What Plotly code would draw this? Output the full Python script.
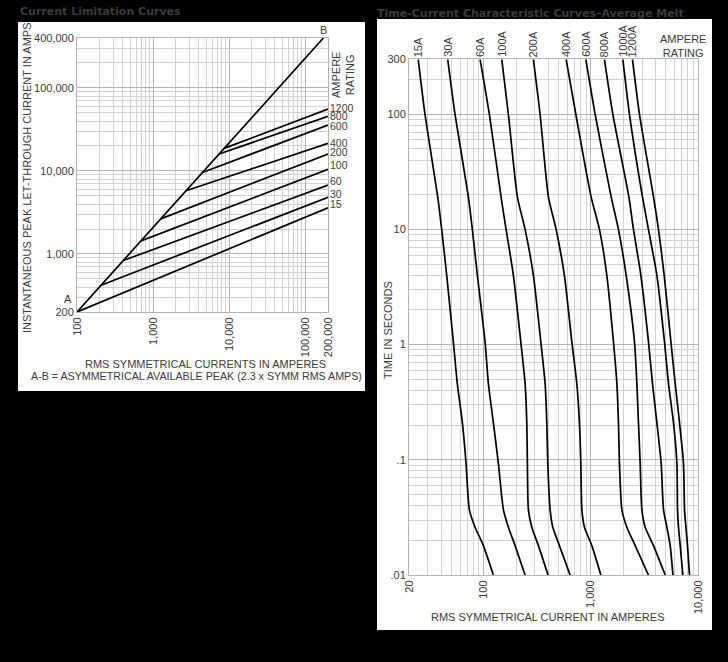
import math
import plotly.graph_objects as go

# ---------------- Left chart: Current Limitation Curves ----------------
ab_current = [100, 174000]          # A-B line (RMS symmetrical amps)
ab_peak = [200, 400000]             # A-B line (peak let-through amps)

left_ratings = ["1200", "800", "600", "400", "200", "100", "60", "30", "15"]
left_start_current = [8590, 7380, 4460, 2720, 1262, 695, 406, 207, 100]
left_start_peak = [18700, 16000, 9570, 5780, 2650, 1440, 834, 420, 200]
left_end_current = 200000
left_end_peak = [55800, 45600, 35800, 21500, 16000, 10500, 6780, 4820, 3610]

left_xticks = [100, 1000, 10000, 100000, 200000]
left_xticktext = ["100", "1,000", "10,000", "100,000", "200,000"]
left_yticks = [200, 1000, 10000, 100000, 400000]
left_yticktext = ["200", "1,000", "10,000", "100,000", "400,000"]

# ---------------- Right chart: Time-Current Curves ----------------
melt_times = [300, 100, 19.2, 10, 4.0, 1.06, 0.46, 0.21, 0.093, 0.037, 0.026, 0.018, 0.01]
amps_15 = [24.4, 28.2, 37.1, 40.4, 45.0, 51.9, 56.5, 63.0, 68.2, 73.2, 82.8, 99.0, 122.7]
amps_30 = [46.0, 53.8, 71.7, 78.1, 87.0, 102.6, 110.2, 122.7, 136.7, 152.2, 169.5, 195.7, 242.8]
amps_60 = [92.2, 112.6, 144.8, 161.3, 188.7, 221.3, 242.8, 251.8, 255.1, 260.6, 280.4, 323.2, 398]
amps_100 = [147.0, 169.5, 205.7, 242.8, 290.2, 340.3, 373.4, 387.2, 395.7, 415.8, 440.6, 507.7, 639.2]
amps_200 = [290.2, 335.2, 400.8, 473.1, 565.4, 663.1, 738.5, 780.9, 805.0, 822.5, 869.8, 1020, 1238]
amps_400 = [586.6, 722.8, 1004, 1201, 1408, 1623, 1747, 1808, 1847, 1945, 2166, 2590, 3447]
amps_600 = [896.4, 1095, 1545, 1808, 2134, 2551, 2686, 2780, 2884, 2991, 3211, 3839, 4939]
amps_800 = [1337, 1602, 2261, 2497, 2928, 3447, 3757, 4130, 4531, 4761, 5122, 5500, 5830]
amps_1000 = [1987, 2291, 3030, 3447, 4130, 4864, 5301, 5904, 6353, 6436, 6576, 6820, 7225]
amps_1200 = [2443, 2841, 3839, 4275, 4833, 5583, 6124, 6718, 7322, 7482, 7710, 7980, 8332]
right_ratings = ["15A", "30A", "60A", "100A", "200A", "400A", "600A", "800A", "1000A", "1200A"]
right_curves = [amps_15, amps_30, amps_60, amps_100, amps_200, amps_400, amps_600,
                amps_800, amps_1000, amps_1200]

right_xticks = [20, 100, 1000, 10000]
right_xticktext = ["20", "100", "1,000", "10,000"]
right_yticks = [300, 100, 10, 1, 0.1, 0.01]
right_yticktext = ["300", "100", "10", "1", ".1", ".01"]

# ---------------- layout helpers ----------------
W, H = 728, 662
FONT = "Liberation Sans, Arial, sans-serif"
TXT = "#3a3a3a"

# vertical pixel nudges of the rating labels at the right end of the left chart
left_label_shift = [1, 0, -1, 0, 2, 4, 4, 3, 4]


def fx(p):
    return p / W


def fy(p):
    return 1 - p / H


def minor_vals(lo, hi):
    vals = []
    for e in range(lo, hi + 1):
        for m in range(1, 10):
            vals.append(m * 10 ** e)
    return vals


fig = go.Figure()

line_style = dict(color="black", width=1.7)

fig.add_trace(go.Scatter(x=ab_current, y=ab_peak, mode="lines", line=line_style,
                         xaxis="x", yaxis="y", hoverinfo="skip"))
for sx, sy, ey in zip(left_start_current, left_start_peak, left_end_peak):
    fig.add_trace(go.Scatter(x=[sx, left_end_current], y=[sy, ey], mode="lines",
                             line=line_style, xaxis="x", yaxis="y", hoverinfo="skip"))

for amps in right_curves:
    fig.add_trace(go.Scatter(x=amps, y=melt_times, mode="lines",
                             line=dict(color="black", width=1.7, shape="spline", smoothing=0.6),
                             xaxis="x2", yaxis="y2", hoverinfo="skip"))

grid_major = "#b4b4b4"
grid_minor = "#d2d2d2"
tickfont = dict(family=FONT, size=11, color=TXT)


def log_axis(domain, rng, tickvals, ticktext, lo, hi, anchor, angle=None):
    d = dict(type="log", domain=domain, range=rng, tickmode="array", automargin=False,
             tickvals=tickvals, ticktext=ticktext, showgrid=True, gridcolor=grid_major,
             gridwidth=1, zeroline=False, showline=True, linecolor=grid_major, mirror=True,
             ticks="", tickfont=tickfont, anchor=anchor, fixedrange=True,
             minor=dict(showgrid=True, gridcolor=grid_minor, gridwidth=1,
                        tickmode="array", tickvals=minor_vals(lo, hi), ticks=""))
    if angle is not None:
        d["tickangle"] = angle
    return d


fig.update_layout(
    template="none",
    width=W, height=H, margin=dict(l=0, r=0, t=0, b=0, pad=0, autoexpand=False),
    paper_bgcolor="black", plot_bgcolor="white", showlegend=False,
    xaxis=log_axis([fx(77), fx(328)], [2, math.log10(200000)], left_xticks, left_xticktext,
                   2, 5, "y", -90),
    yaxis=log_axis([fy(312), fy(38)], [math.log10(200), math.log10(400000)], left_yticks,
                   left_yticktext, 2, 5, "x"),
    xaxis2=log_axis([fx(409), fx(698)], [math.log10(20), 4], right_xticks, right_xticktext,
                    1, 4, "y2", -90),
    yaxis2=log_axis([fy(575), fy(59.3)], [-2, math.log10(300)], right_yticks,
                    right_yticktext, -2, 2, "x2"),
)

# white panels behind charts
fig.add_shape(type="rect", xref="paper", yref="paper", x0=fx(18), x1=fx(365), y0=fy(391),
              y1=fy(22), fillcolor="white", line=dict(width=0), layer="below")
fig.add_shape(type="rect", xref="paper", yref="paper", x0=fx(377), x1=fx(712), y0=fy(630),
              y1=fy(19), fillcolor="white", line=dict(width=0), layer="below")

ann = []


def txt(x, y, text, size=11, angle=0, xanchor="center", yanchor="middle", color=TXT,
        bold=False, xref="paper", yref="paper", xshift=0, yshift=0, family=FONT):
    t = f"<b>{text}</b>" if bold else text
    ann.append(dict(x=x, y=y, xref=xref, yref=yref, text=t, showarrow=False,
                    textangle=angle, xanchor=xanchor, yanchor=yanchor,
                    xshift=xshift, yshift=yshift, borderpad=0,
                    font=dict(family=family, size=size, color=color)))


TITLE_FONT = "DejaVu Sans, Verdana, sans-serif"
# titles on black background
txt(fx(19), fy(12), "Current Limitation Curves", size=11, xanchor="left", color="#3c3c3c",
    bold=True, family=TITLE_FONT)
txt(fx(376), fy(13), "Time-Current Characteristic Curves\u2013Average Melt", size=11,
    xanchor="left", color="#3c3c3c", bold=True, family=TITLE_FONT)

# left chart texts
txt(fx(27), fy(178), "INSTANTANEOUS PEAK LET-THROUGH CURRENT IN AMPS", angle=-90)
txt(fx(205), fy(364), "RMS SYMMETRICAL CURRENTS IN AMPERES")
txt(fx(196), fy(376), "A-B = ASYMMETRICAL AVAILABLE PEAK (2.3 x SYMM RMS AMPS)", size=10.7)
txt(fx(343), fy(75), "AMPERE<br>RATING", angle=-90)
txt(fx(68), fy(299), "A")
txt(fx(323), fy(30), "B")
for r, ey, sh in zip(left_ratings, left_end_peak, left_label_shift):
    txt(math.log10(left_end_current), math.log10(ey), r, size=10.5, xref="x", yref="y",
        xanchor="left", xshift=1, yshift=sh)

# right chart texts
txt(fx(388), fy(330), "TIME IN SECONDS", angle=-90)
txt(fx(547), fy(617), "RMS SYMMETRICAL CURRENT IN AMPERES")
txt(fx(683), fy(46), "AMPERE<br>RATING")
for r, amps in zip(right_ratings, right_curves):
    txt(math.log10(amps[0]), fy(58), r, angle=-90, xref="x2", yanchor="bottom")

fig.update_layout(annotations=ann)

fig.write_html("out.html")
